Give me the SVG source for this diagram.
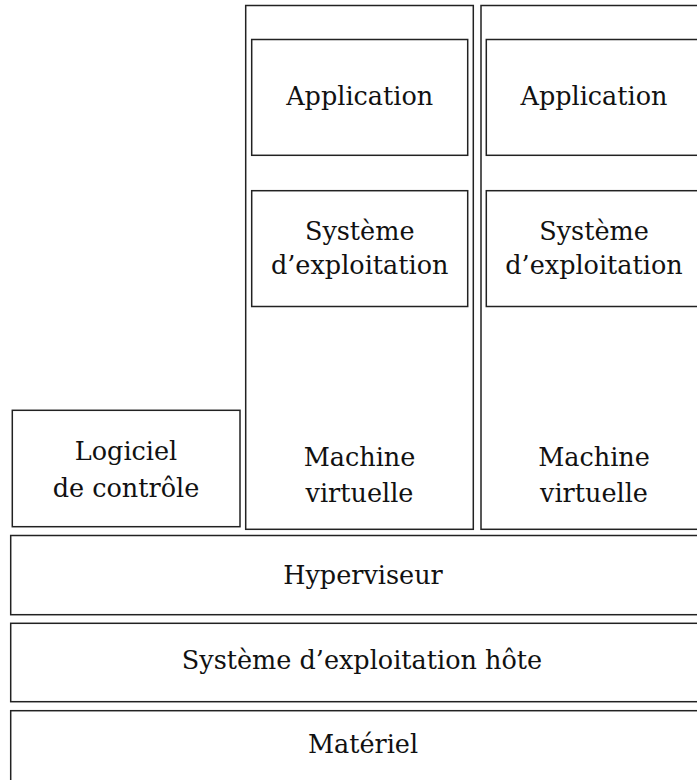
<svg xmlns="http://www.w3.org/2000/svg" width="697" height="780" viewBox="0 0 697 780">
  <style>
    rect { fill: none; stroke: #222; stroke-width: 1.5; }
    text { font-family: "DejaVu Serif", "Liberation Serif", serif; font-size: 25.5px; fill: #111; text-anchor: middle; }
  </style>
  <rect x="0" y="0" width="697" height="780" style="fill:#fff;stroke:none"/>

  <!-- Virtual machine 1 -->
  <g id="vm1">
    <rect x="245.7" y="5.5" width="227.6" height="523.8"/>
    <text x="359.5" y="466">Machine</text>
    <text x="359.5" y="502">virtuelle</text>
  </g>
  <g id="app1">
    <rect x="251.7" y="39.5" width="216" height="115.8"/>
    <text x="359.7" y="105">Application</text>
  </g>
  <g id="os1">
    <rect x="251.7" y="190.7" width="216" height="115.8"/>
    <text x="359.7" y="240">Système</text>
    <text x="359.7" y="274">d’exploitation</text>
  </g>

  <!-- Virtual machine 2 -->
  <g id="vm2">
    <rect x="481" y="5.5" width="227" height="523.8"/>
    <text x="594" y="466">Machine</text>
    <text x="594" y="502">virtuelle</text>
  </g>
  <g id="app2">
    <rect x="486.3" y="39.5" width="216" height="115.8"/>
    <text x="594" y="105">Application</text>
  </g>
  <g id="os2">
    <rect x="486.3" y="190.7" width="216" height="115.8"/>
    <text x="594" y="240">Système</text>
    <text x="594" y="274">d’exploitation</text>
  </g>

  <!-- Control software -->
  <g id="controle">
    <rect x="12.3" y="410.3" width="227.7" height="116.4"/>
    <text x="126" y="460">Logiciel</text>
    <text x="126" y="497">de contrôle</text>
  </g>

  <!-- Lower layers -->
  <g id="hyperviseur">
    <rect x="10.7" y="535.5" width="705" height="79.2"/>
    <text x="363" y="584">Hyperviseur</text>
  </g>
  <g id="os-hote">
    <rect x="10.7" y="623.3" width="705" height="78.4"/>
    <text x="362" y="669">Système d’exploitation hôte</text>
  </g>
  <g id="materiel">
    <rect x="10.7" y="710.7" width="705" height="80"/>
    <text x="363" y="753">Matériel</text>
  </g>

  <g id="connectors"/>
</svg>
